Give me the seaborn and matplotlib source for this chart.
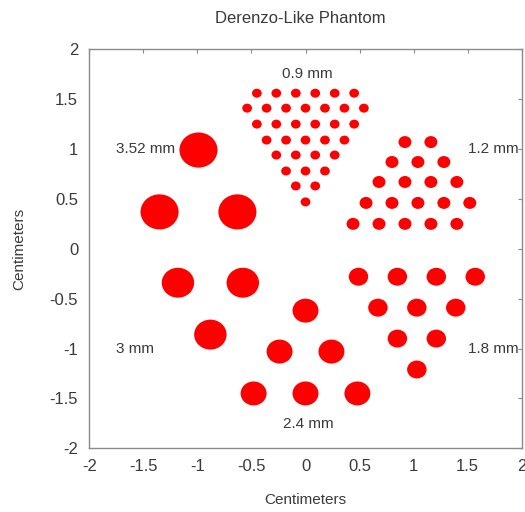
import matplotlib
matplotlib.use("Agg")
import matplotlib.pyplot as plt
import seaborn as sns
import numpy as np
import pandas as pd
from matplotlib.path import Path

# ---------------- data (centimeters) ----------------
title = "Derenzo-Like Phantom"
axis_label = "Centimeters"
tick_values = [-2, -1.5, -1, -0.5, 0, 0.5, 1, 1.5, 2]
tick_labels = ["-2", "-1.5", "-1", "-0.5", "0", "0.5", "1", "1.5", "2"]

# 0.9 mm rods: rows of x positions and row heights
rows_09_x = [[-0.45, -0.27, -0.09, 0.09, 0.27, 0.45],
             [-0.54, -0.36, -0.18, 0.0, 0.18, 0.36, 0.54],
             [-0.45, -0.27, -0.09, 0.09, 0.27, 0.45],
             [-0.36, -0.18, 0.0, 0.18, 0.36],
             [-0.27, -0.09, 0.09, 0.27],
             [-0.18, 0.0, 0.18],
             [-0.09, 0.09],
             [0.0]]
rows_09_y = [1.56, 1.41, 1.25, 1.09, 0.94, 0.78, 0.63, 0.47]

# 1.2 mm rods
rows_12_x = [[0.92, 1.16],
             [0.80, 1.04, 1.28],
             [0.68, 0.92, 1.16, 1.40],
             [0.56, 0.80, 1.04, 1.28, 1.52],
             [0.44, 0.68, 0.92, 1.16, 1.40]]
rows_12_y = [1.07, 0.87, 0.67, 0.46, 0.25]

# 1.8 mm rods
rows_18_x = [[0.49, 0.85, 1.21, 1.57],
             [0.67, 1.03, 1.39],
             [0.85, 1.21],
             [1.03]]
rows_18_y = [-0.28, -0.59, -0.90, -1.21]

# 2.4 mm rods
rows_24_x = [[0.0], [-0.24, 0.24], [-0.48, 0.0, 0.48]]
rows_24_y = [-0.62, -1.03, -1.45]

# 3 mm rods
rows_30_x = [[-1.18, -0.58], [-0.88]]
rows_30_y = [-0.34, -0.86]

# 3.52 mm rods
rows_352_x = [[-0.99], [-1.35, -0.63]]
rows_352_y = [0.99, 0.37]

groups = [
    ("0.9 mm", 0.09, rows_09_x, rows_09_y),
    ("1.2 mm", 0.12, rows_12_x, rows_12_y),
    ("1.8 mm", 0.18, rows_18_x, rows_18_y),
    ("2.4 mm", 0.24, rows_24_x, rows_24_y),
    ("3 mm", 0.30, rows_30_x, rows_30_y),
    ("3.52 mm", 0.352, rows_352_x, rows_352_y),
]

# group labels: text, x, y, horizontal alignment
label_text = ["0.9 mm", "1.2 mm", "1.8 mm", "2.4 mm", "3 mm", "3.52 mm"]
label_x = [0.02, 1.50, 1.50, 0.03, -1.75, -1.75]
label_y = [1.75, 1.00, -1.00, -1.76, -1.00, 1.00]
label_ha = ["center", "left", "left", "center", "left", "left"]

# ---------------- style ----------------
sns.set_style("white")
plt.rcParams['font.family'] = ['Liberation Sans', 'DejaVu Sans']
text_color = "#3a3a3a"
axis_color = "#8a8a8a"
dot_color = "#ff0000"
fs = 11
fs_tick = 12
fs_title = 12

DPI = 100
fig = plt.figure(figsize=(5.25, 5.12), dpi=DPI)
ax = fig.add_axes([89.3 / 525, 1 - 448.3 / 512, (521.7 - 89.3) / 525, (448.3 - 49.3) / 512])
ax.set_xlim(-2, 2)
ax.set_ylim(-2, 2)

# pixel scale of data units
p0 = ax.transData.transform((0, 0))
p1 = ax.transData.transform((1, 1))
sx = p1[0] - p0[0]
sy = p1[1] - p0[1]
uc = Path.unit_circle()
ell_marker = Path(uc.vertices * np.array([1.0, sy / sx]), uc.codes)

for name, diam, rx, ry in groups:
    xs, ys = [], []
    for rowx, yv in zip(rx, ry):
        xs.extend(rowx)
        ys.extend([yv] * len(rowx))
    df = pd.DataFrame({"x": xs, "y": ys})
    d_pts = diam * sx * 72.0 / DPI
    sns.scatterplot(data=df, x="x", y="y", ax=ax, color=dot_color,
                    s=d_pts ** 2, marker=ell_marker, linewidth=0,
                    edgecolor="none", legend=False, zorder=3)

for t, x, y, ha in zip(label_text, label_x, label_y, label_ha):
    ax.text(x, y, t, ha=ha, va="center", fontsize=fs, color=text_color, zorder=4)

ax.set_xlim(-2, 2)
ax.set_ylim(-2, 2)
ax.set_xticks(tick_values)
ax.set_xticklabels(tick_labels)
ax.set_yticks(tick_values)
ax.set_yticklabels(tick_labels)
ax.tick_params(axis="both", direction="in", length=3, width=0.8, color=axis_color,
               labelcolor=text_color, labelsize=fs_tick, top=True, right=True)
ax.tick_params(axis="x", pad=8)
ax.tick_params(axis="y", pad=8)
for sp in ax.spines.values():
    sp.set_visible(True)
    sp.set_color(axis_color)
    sp.set_linewidth(1.0)

ax.set_xlabel(axis_label, fontsize=fs, color=text_color)
ax.set_ylabel(axis_label, fontsize=fs, color=text_color)
ax.xaxis.set_label_coords(0.5, -0.112)
ax.yaxis.set_label_coords(-0.146, 0.5)
ttl = ax.set_title(title, fontsize=fs_title, color=text_color, pad=19)
ttl.set_x(0.488)

fig.savefig("out.png", dpi=DPI, facecolor="white")
